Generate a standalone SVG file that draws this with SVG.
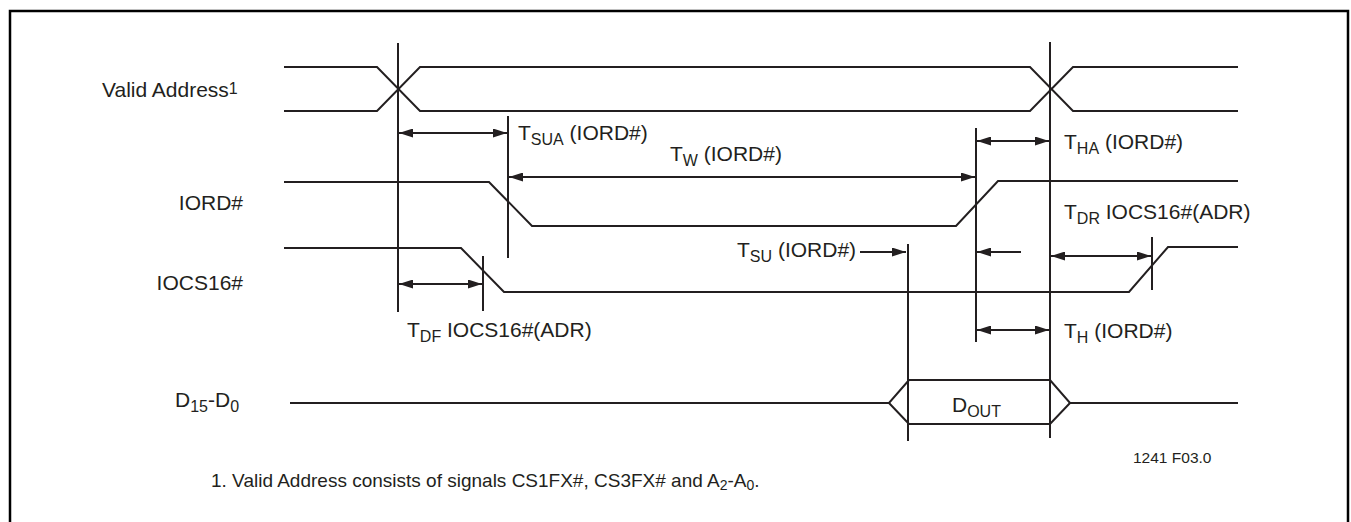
<svg xmlns="http://www.w3.org/2000/svg" width="1351" height="522" viewBox="0 0 1351 522">
<style>
  .sig{fill:none;stroke:#231f20;stroke-width:2;stroke-linejoin:miter}
  .ref{fill:none;stroke:#231f20;stroke-width:2}
  .dim{fill:none;stroke:#231f20;stroke-width:2}
  .lbl{font-family:"Liberation Sans",Arial,Helvetica,sans-serif;font-size:21px;fill:#231f20}
  .sub{font-size:16px}
  .note{font-family:"Liberation Sans",Arial,Helvetica,sans-serif;font-size:19px;fill:#231f20}
  .fig{font-family:"Liberation Sans",Arial,Helvetica,sans-serif;font-size:15.5px;fill:#231f20}
</style>
<defs>
  <marker id="ah" viewBox="0 0 14 9" refX="14" refY="4.5" markerWidth="14" markerHeight="9" markerUnits="userSpaceOnUse" orient="auto-start-reverse">
    <path d="M0,0 L14,4.5 L0,9 z" fill="#231f20"/>
  </marker>
</defs>
<rect width="1351" height="522" fill="#ffffff"/>
<path d="M10,530 V11 H1348 V530" fill="none" stroke="#000" stroke-width="2.5"/>

<g id="valid-address">
  <path class="sig" d="M284,67 H377 L420,111 H1030 L1073,67 H1238"/>
  <path class="sig" d="M284,111 H377 L420,67 H1030 L1073,111 H1238"/>
  <text class="lbl" x="102" y="97">Valid Address<tspan class="sub" dy="-3">1</tspan></text>
</g>
<g id="iord">
  <path class="sig" d="M284,182 H489 L532,226 H956 L998,181 H1238"/>
  <text class="lbl" x="243" y="210" text-anchor="end">IORD#</text>
</g>
<g id="iocs16">
  <path class="sig" d="M284,248 H461 L504,292 H1129 L1168,247 H1238"/>
  <text class="lbl" x="243" y="290" text-anchor="end">IOCS16#</text>
</g>
<g id="data-bus">
  <path class="sig" d="M290,403 H889 L909,380 H1050 L1070,403 H1238"/>
  <path class="sig" d="M889,403 L909,424 H1050 L1070,403"/>
  <text class="lbl" x="175" y="407">D<tspan class="sub" dy="5">15</tspan><tspan dy="-5">-D</tspan><tspan class="sub" dy="5">0</tspan></text>
  <text class="lbl" x="952" y="412">D<tspan class="sub" dy="5">OUT</tspan></text>
</g>

<g id="connectors">
  <!-- timing reference lines -->
  <line class="ref" x1="398" y1="43" x2="398" y2="312"/>
  <line class="ref" x1="1050" y1="42" x2="1050" y2="438"/>
  <line class="ref" x1="508" y1="116" x2="508" y2="258"/>
  <line class="ref" x1="976" y1="128" x2="976" y2="342"/>
  <line class="ref" x1="483" y1="256" x2="483" y2="311"/>
  <line class="ref" x1="908" y1="244" x2="908" y2="441"/>
  <line class="ref" x1="1152" y1="237" x2="1152" y2="290"/>
  <!-- dimension arrows -->
  <line class="dim" x1="399" y1="133" x2="507" y2="133" marker-start="url(#ah)" marker-end="url(#ah)"/>
  <line class="dim" x1="509" y1="177" x2="975" y2="177" marker-start="url(#ah)" marker-end="url(#ah)"/>
  <line class="dim" x1="977" y1="141" x2="1049" y2="141" marker-start="url(#ah)" marker-end="url(#ah)"/>
  <line class="dim" x1="399" y1="284" x2="482" y2="284" marker-start="url(#ah)" marker-end="url(#ah)"/>
  <line class="dim" x1="860" y1="252" x2="906" y2="252" marker-end="url(#ah)"/>
  <line class="dim" x1="1021" y1="252" x2="977" y2="252" marker-end="url(#ah)"/>
  <line class="dim" x1="1051" y1="256" x2="1151" y2="256" marker-start="url(#ah)" marker-end="url(#ah)"/>
  <line class="dim" x1="977" y1="330" x2="1049" y2="330" marker-start="url(#ah)" marker-end="url(#ah)"/>
</g>

<g id="timing-labels">
  <text class="lbl" x="518" y="140">T<tspan class="sub" dy="5">SUA</tspan><tspan dy="-5"> (IORD#)</tspan></text>
  <text class="lbl" x="670" y="161">T<tspan class="sub" dy="5">W</tspan><tspan dy="-5"> (IORD#)</tspan></text>
  <text class="lbl" x="1064" y="149">T<tspan class="sub" dy="5">HA</tspan><tspan dy="-5"> (IORD#)</tspan></text>
  <text class="lbl" x="1064" y="219">T<tspan class="sub" dy="5">DR</tspan><tspan dy="-5"> IOCS16#(ADR)</tspan></text>
  <text class="lbl" x="737" y="257">T<tspan class="sub" dy="5">SU</tspan><tspan dy="-5"> (IORD#)</tspan></text>
  <text class="lbl" x="407" y="337">T<tspan class="sub" dy="5">DF</tspan><tspan dy="-5"> IOCS16#(ADR)</tspan></text>
  <text class="lbl" x="1064" y="338">T<tspan class="sub" dy="5">H</tspan><tspan dy="-5"> (IORD#)</tspan></text>
</g>

<g id="notes">
  <text class="fig" x="1133" y="463">1241 F03.0</text>
  <text class="note" x="211" y="487">1. Valid Address consists of signals CS1FX#, CS3FX# and A<tspan font-size="14" dy="3">2</tspan><tspan dy="-3">-A</tspan><tspan font-size="14" dy="3">0</tspan><tspan dy="-3">.</tspan></text>
</g>
</svg>
